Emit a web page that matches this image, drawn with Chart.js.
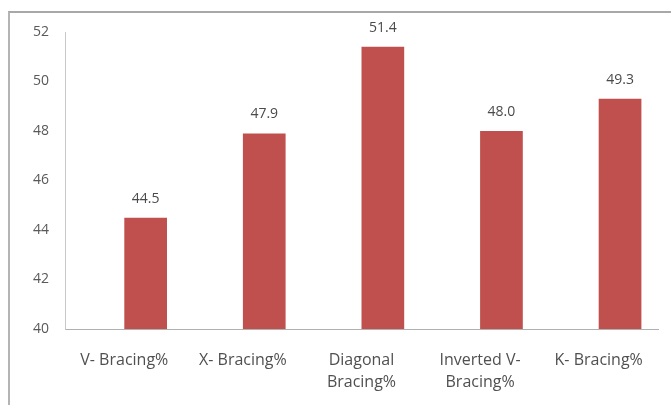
<!DOCTYPE html>
<html lang="en">
<head>
    <meta charset="UTF-8">
    <title>Bracing comparison</title>
    <script src="https://cdn.jsdelivr.net/npm/chart.js"></script>
    <style>
        html, body { margin: 0; padding: 0; background: #fff; }
        .frame { position: absolute; left: 8px; top: 11px; width: 661px; height: 392px;
                 border-left: 2px solid #b4b4b4; border-top: 2px solid #a8a8a8; }
        .chart-box { position: absolute; left: 10px; top: 13px; width: 661px; height: 392px; }
    </style>
</head>
<body>
    <div class="frame"></div>
    <div class="chart-box">
        <canvas id="barChart"></canvas>
    </div>

    <script>
        const categories = [
            'V- Bracing%',
            'X- Bracing%',
            ['Diagonal', 'Bracing%'],
            ['Inverted V-', 'Bracing%'],
            'K- Bracing%'
        ];
        const values = [44.5, 47.9, 51.4, 48.0, 49.3];
        const yTicks = [40, 42, 44, 46, 48, 50, 52];

        const FONT = '"Open Sans", Lato, sans-serif';

        // value labels above each bar
        const valueLabels = {
            id: 'valueLabels',
            afterDatasetsDraw(chart) {
                const ctx = chart.ctx;
                const meta = chart.getDatasetMeta(1);
                ctx.save();
                ctx.font = '14px ' + FONT;
                ctx.fillStyle = '#4a4a4a';
                ctx.textAlign = 'center';
                ctx.textBaseline = 'middle';
                meta.data.forEach((bar, i) => {
                    ctx.fillText(values[i].toFixed(1), bar.x, bar.y - 19);
                });
                ctx.restore();
            }
        };

        new Chart(document.getElementById('barChart'), {
            type: 'bar',
            data: {
                labels: categories,
                datasets: [
                    // empty slot: the bars sit right of the category centre in the original
                    { label: '', data: values.map(() => null) },
                    { label: 'Bracing', data: values, backgroundColor: '#c0504d' }
                ]
            },
            options: {
                responsive: true,
                maintainAspectRatio: false,
                animation: false,
                layout: { padding: { top: 19, right: 13, bottom: 0, left: 0 } },
                datasets: { bar: { categoryPercentage: 0.72, barPercentage: 1.0 } },
                plugins: {
                    legend: { display: false },
                    tooltip: { enabled: false }
                },
                scales: {
                    x: {
                        grid: { display: false, drawTicks: false },
                        border: { display: true, color: '#b0b0b0', width: 1 },
                        ticks: {
                            color: '#505050',
                            padding: 20,
                            maxRotation: 0,
                            autoSkip: false,
                            font: { family: FONT, size: 16, lineHeight: 1.375 }
                        },
                        afterFit: s => { s.height = 76; }
                    },
                    y: {
                        min: yTicks[0],
                        max: yTicks[yTicks.length - 1],
                        afterBuildTicks: s => { s.ticks = yTicks.map(v => ({ value: v })); },
                        grid: { display: false, drawTicks: false },
                        border: { display: true, color: '#c8c8c8', width: 1 },
                        ticks: {
                            color: '#595959',
                            padding: 16,
                            font: { family: FONT, size: 14 }
                        },
                        afterFit: s => {
                            s.width = 55;
                            // tick padding would otherwise push the plot top down
                            s.paddingTop = 8;
                            s.paddingBottom = 8;
                        }
                    }
                }
            },
            plugins: [valueLabels]
        });
    </script>
</body>
</html>
